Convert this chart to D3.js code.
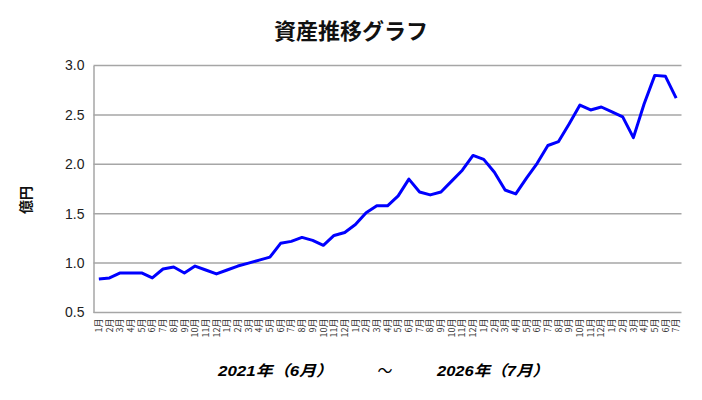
<!DOCTYPE html>
<html lang="ja">
<head>
<meta charset="utf-8">
<title>資産推移グラフ</title>
<script src="https://d3js.org/d3.v7.min.js"></script>
<style>
  body { margin: 0; background: #fff; }
  text { font-family: "Liberation Sans", Arial, "Noto Sans CJK JP", sans-serif; }
  .jp { font-family: "Noto Sans CJK JP", sans-serif; }
</style>
</head>
<body>
<script>
// data
var months = [1,2,3,4,5,6,7,8,9,10,11,12,
              1,2,3,4,5,6,7,8,9,10,11,12,
              1,2,3,4,5,6,7,8,9,10,11,12,
              1,2,3,4,5,6,7,8,9,10,11,12,
              1,2,3,4,5,6,7];
var values = [0.84, 0.85, 0.90, 0.90, 0.90, 0.85, 0.94, 0.96, 0.90, 0.97, 0.93, 0.89,
              0.93, 0.97, 1.00, 1.03, 1.06, 1.20, 1.22, 1.26, 1.23, 1.18, 1.28, 1.31,
              1.39, 1.51, 1.58, 1.58, 1.68, 1.85, 1.72, 1.69, 1.72, 1.83, 1.94, 2.09,
              2.05, 1.92, 1.74, 1.70, 1.86, 2.01, 2.19, 2.23, 2.41, 2.60, 2.55, 2.58,
              2.53, 2.48, 2.27, 2.61, 2.90, 2.89, 2.67];
var yTicks = [0.5, 1.0, 1.5, 2.0, 2.5, 3.0];
var title = "資産推移グラフ";
var yLabel = "億円";
var periodStart = "2021年（6月）";
var periodEnd = "2026年（7月）";

var w = 702, h = 400;
var margin = {top: 65.5, right: 20.5, bottom: 87.5, left: 93.5};

var svg = d3.select("body").append("svg")
  .attr("width", w)
  .attr("height", h);

var xScale = d3.scaleBand()
  .domain(d3.range(values.length))
  .range([margin.left, w - margin.right]);

var yScale = d3.scaleLinear()
  .domain([0.5, 3.0])
  .range([h - margin.bottom, margin.top]);

// gridlines
svg.append("g")
  .selectAll("line")
  .data(yTicks)
  .enter().append("line")
    .attr("x1", margin.left)
    .attr("x2", w - margin.right)
    .attr("y1", d => yScale(d))
    .attr("y2", d => yScale(d))
    .attr("stroke", "#a6a6a6")
    .attr("stroke-width", 1.5);

// y axis
var yAxis = d3.axisLeft(yScale)
  .tickValues(yTicks)
  .tickFormat(d3.format(".1f"))
  .tickSize(0)
  .tickPadding(9);

var gy = svg.append("g")
  .attr("transform", "translate(" + margin.left + ",0)")
  .call(yAxis);
gy.select(".domain").attr("stroke", "#a6a6a6").attr("stroke-width", 1.5);
gy.selectAll("text")
  .attr("font-size", 14)
  .attr("fill", "#222");

// x axis, month labels rotated
var xAxis = d3.axisBottom(xScale)
  .tickFormat(i => months[i] + "月")
  .tickSize(0)
  .tickPadding(0);

var gx = svg.append("g")
  .attr("transform", "translate(0," + (h - margin.bottom) + ")")
  .call(xAxis);
gx.select(".domain").remove();
gx.selectAll("text")
  .attr("class", "jp")
  .attr("font-size", 9)
  .attr("fill", "#333")
  .attr("transform", "rotate(-90)")
  .attr("x", -6)
  .attr("y", 0)
  .attr("dy", "0.35em")
  .attr("text-anchor", "end");

// the line
var line = d3.line()
  .x((d, i) => xScale(i) + xScale.bandwidth() / 2)
  .y(d => yScale(d));

svg.append("path")
  .datum(values)
  .attr("fill", "none")
  .attr("stroke", "#0000ff")
  .attr("stroke-width", 3)
  .attr("stroke-linejoin", "round")
  .attr("d", line);

// titles
svg.append("text")
  .attr("class", "jp")
  .attr("x", w / 2)
  .attr("y", 39)
  .attr("text-anchor", "middle")
  .attr("font-size", 22)
  .attr("font-weight", "bold")
  .attr("fill", "#111")
  .text(title);

svg.append("text")
  .attr("class", "jp")
  .attr("transform", "translate(31,200) rotate(-90)")
  .attr("text-anchor", "middle")
  .attr("font-size", 14)
  .attr("font-weight", "bold")
  .attr("fill", "#111")
  .text(yLabel);

// period caption, the original glyphs are stretched wide
var foot = svg.append("g").attr("font-size", 15).attr("fill", "#000");
foot.append("text")
  .attr("x", 218).attr("y", 376)
  .attr("font-weight", "bold").attr("font-style", "italic")
  .attr("textLength", 115).attr("lengthAdjust", "spacingAndGlyphs")
  .text(periodStart);
foot.append("text")
  .attr("class", "jp")
  .attr("x", 385).attr("y", 376)
  .attr("text-anchor", "middle")
  .text("～");
foot.append("text")
  .attr("x", 437).attr("y", 376)
  .attr("font-weight", "bold").attr("font-style", "italic")
  .attr("textLength", 112).attr("lengthAdjust", "spacingAndGlyphs")
  .text(periodEnd);
</script>
</body>
</html>
